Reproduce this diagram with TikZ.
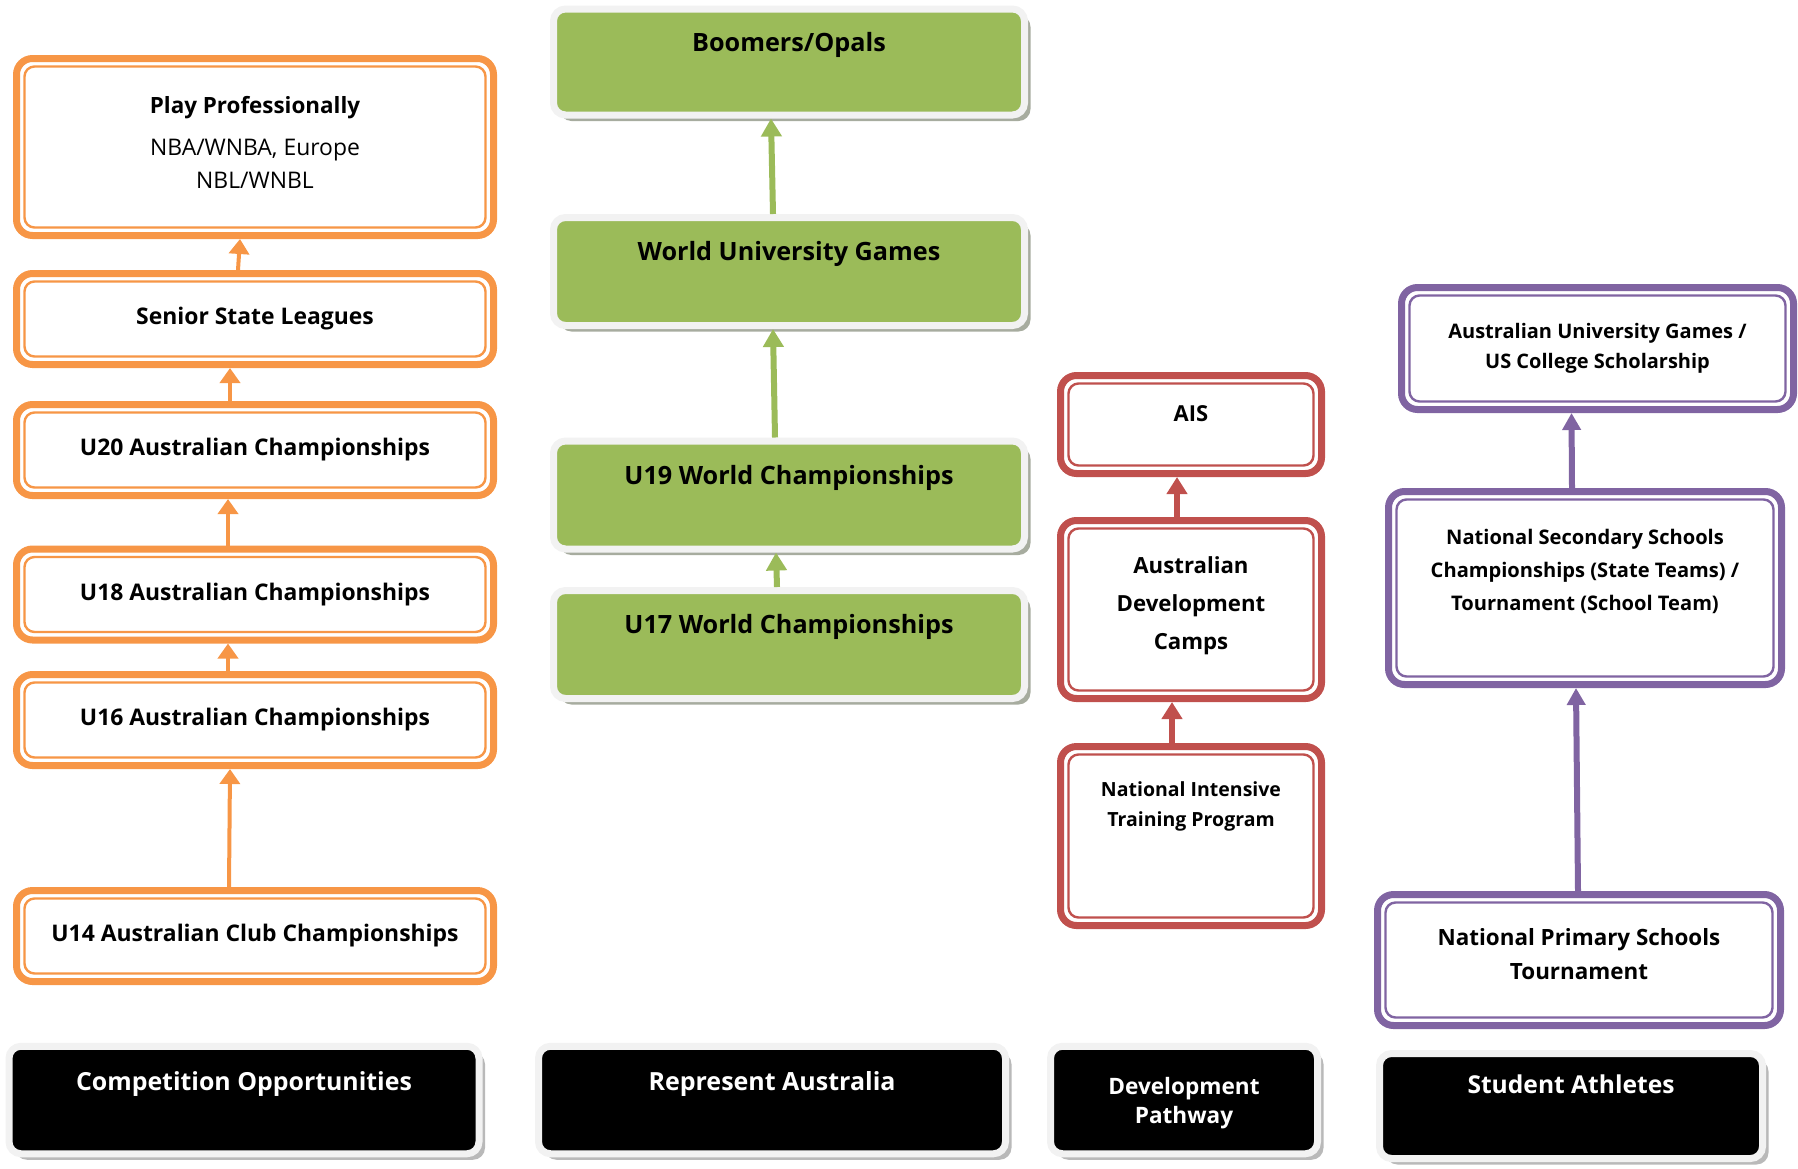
\documentclass[tikz,border=0pt]{standalone}
\usepackage{fontspec}
\setmainfont{Open Sans}
\usetikzlibrary{arrows.meta, shadows, positioning}

\definecolor{porange}{HTML}{F79646}
\definecolor{pgreen}{HTML}{9BBB59}
\definecolor{pred}{HTML}{C0504D}
\definecolor{ppurple}{HTML}{8064A2}
\definecolor{bevel}{HTML}{F2F2F2}
\definecolor{shade}{HTML}{A7AC9F}

\newcommand{\bfont}[2]{\fontsize{#1}{#2}\selectfont\bfseries}

\tikzset{inner line/.style={path picture={\draw[#1, line width=1.2pt, rounded corners=5pt] ([shift={(4pt,-4pt)}]path picture bounding box.north west) rectangle ([shift={(-4pt,4pt)}]path picture bounding box.south east);}}}

\tikzstyle{oblock} = [rectangle, draw=porange, line width=3.5pt, fill=white, rounded corners=8pt, inner line=porange, minimum width=238.5pt, minimum height=45.5pt, align=center, font=\bfont{11.45}{16.5}]
\tikzstyle{gblock} = [rectangle, draw=bevel, line width=3.5pt, fill=pgreen, rounded corners=6pt, drop shadow={shadow xshift=3pt, shadow yshift=-3pt, fill=shade, opacity=1}, minimum width=235.5pt, minimum height=54pt, align=center, text height=7pt, text depth=18pt, font=\bfont{12.6}{16}]
\tikzstyle{rblock} = [rectangle, draw=pred, line width=3.5pt, fill=white, rounded corners=8pt, inner line=pred, minimum width=130.5pt, align=center]
\tikzstyle{pblock} = [rectangle, draw=ppurple, line width=3.5pt, fill=white, rounded corners=8pt, inner line=ppurple, align=center]
\tikzstyle{kblock} = [rectangle, draw=bevel, line width=3.5pt, fill=black, text=white, rounded corners=6pt, drop shadow={shadow xshift=3pt, shadow yshift=-3pt, fill=gray!55, opacity=1}, minimum height=53.75pt, align=center, font=\bfont{12.45}{14.5}]
\tikzstyle{oline} = [draw, line width=2pt, color=porange, -{Triangle[width=10pt,length=7.5pt]}]
\tikzstyle{gline} = [draw, line width=3pt, color=pgreen, -{Triangle[width=10pt,length=9pt]}]
\tikzstyle{rline} = [draw, line width=3pt, color=pred, -{Triangle[width=10pt,length=8.5pt]}]
\tikzstyle{pline} = [draw, line width=3pt, color=ppurple, -{Triangle[width=9pt,length=8.5pt]}]

\begin{document}
\begin{tikzpicture}[x=0.5pt, y=-0.5pt]
    \useasboundingbox (0,0) rectangle (1798,1168);
    % Competition column
    \node [oblock, minimum height=88.5pt, text depth=4.8pt] (play) at (255,147) {{\fontsize{11.2}{16.5}\selectfont Play Professionally}\\[4.25pt]{\mdseries NBA/WNBA, Europe}\\{\mdseries NBL/WNBL}};
    \node [oblock, below of=play, node distance=86pt] (senior) {Senior State Leagues};
    \node [oblock, below of=senior, node distance=65.5pt] (u20) {U20 Australian Championships};
    \node [oblock, below of=u20, node distance=72.25pt] (u18) {U18 Australian Championships};
    \node [oblock, below of=u18, node distance=62.75pt] (u16) {U16 Australian Championships};
    \node [oblock, below of=u16, node distance=108pt] (u14) {U14 Australian Club Championships};
    % Represent Australia column
    \node [gblock, minimum height=53pt] (boomers) at (789,62) {Boomers/Opals};
    \node [gblock, below of=boomers, node distance=104.75pt] (wug) {World University Games};
    \node [gblock, below of=wug, node distance=111.75pt] (u19) {U19 World Championships};
    \node [gblock, below of=u19, node distance=74.75pt] (u17) {U17 World Championships};
    % Development column
    \node [rblock, minimum height=49pt, text height=7pt, text depth=10pt, font=\bfont{11}{14}] (ais) at (1191,424.5) {AIS};
    \node [rblock, below of=ais, node distance=92.5pt, minimum height=89pt, text height=46pt, text depth=6.5pt, font=\bfont{11.1}{19}] (camps) {Australian\\Development\\Camps};
    \node [rblock, below of=camps, node distance=113.25pt, minimum height=89.5pt, text height=22.5pt, text depth=32.5pt, font=\bfont{9.75}{15}] (nitp) {National Intensive\\Training Program};
    % Student column
    \node [pblock, minimum width=196pt, minimum height=61pt, font=\bfont{10}{15}] (aug) at (1597.5,348.5) {Australian University Games /\\US College Scholarship};
    \node [pblock, minimum width=196.5pt, minimum height=96.5pt, text height=40.5pt, text depth=18.5pt, font=\bfont{10.05}{16.5}] (nss) at (1585,588) {National Secondary Schools\\Championships (State Teams) /\\Tournament (School Team)};
    \node [pblock, minimum width=201.5pt, minimum height=65.5pt, text depth=5.8pt, font=\bfont{11.2}{17}] (nps) at (1579,960) {National Primary Schools\\Tournament};
    % Column headings
    \node [kblock, minimum width=235pt, text height=7pt, text depth=17pt] (comp) at (244,1100) {Competition Opportunities};
    \node [kblock, right of=comp, node distance=264pt, minimum width=233.5pt, text height=7pt, text depth=17pt, font=\bfont{12.5}{14.5}] (rep) {Represent Australia};
    \node [kblock, right of=rep, node distance=206pt, minimum width=133.5pt, text height=26.5pt, text depth=2.7pt, font=\bfont{11.3}{14.5}] (dev) {Development\\Pathway};
    \node [kblock, minimum width=191.5pt, minimum height=52.5pt, text height=7pt, text depth=20pt, font=\bfont{12.3}{15}] (stud) at (1571,1106) {Student Athletes};
    % Draw edges
    \path [oline] ([xshift=-13pt]u14.north) -- ([xshift=-12.5pt]u16.south);
    \path [oline] ([xshift=-13.5pt]u16.north) -- ([xshift=-13.5pt]u18.south);
    \path [oline] ([xshift=-13.5pt]u18.north) -- ([xshift=-13.5pt]u20.south);
    \path [oline] ([xshift=-12.5pt]u20.north) -- ([xshift=-12.5pt]senior.south);
    \path [oline] ([xshift=-8.5pt]senior.north) -- ([xshift=-7.5pt]play.south);
    \path [gline] ([xshift=-6pt]u17.north) -- ([xshift=-6.5pt]u19.south);
    \path [gline] ([xshift=-7pt]u19.north) -- ([xshift=-8pt]wug.south);
    \path [gline] ([xshift=-8pt]wug.north) -- ([xshift=-9pt]boomers.south);
    \path [rline] ([xshift=-9.5pt]nitp.north) -- ([xshift=-9.5pt]camps.south);
    \path [rline] ([xshift=-7pt]camps.north) -- ([xshift=-7pt]ais.south);
    \path [pline] ([xshift=-0.5pt]nps.north) -- ([xshift=-4.5pt]nss.south);
    \path [pline] ([xshift=-6.5pt]nss.north) -- ([xshift=-13pt]aug.south);
\end{tikzpicture}
\end{document}
